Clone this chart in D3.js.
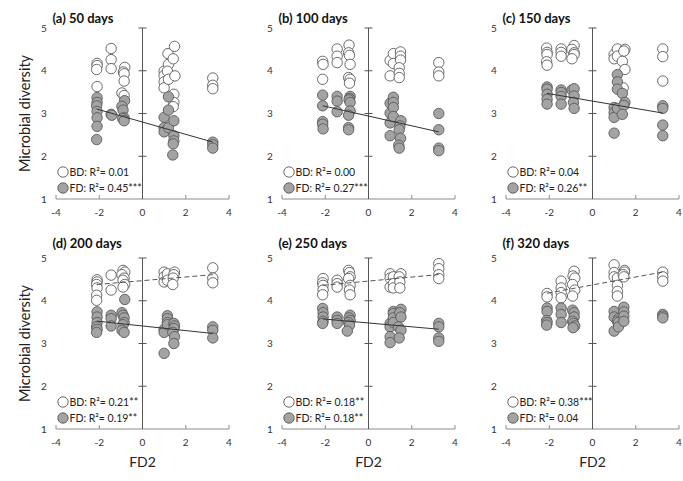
<!DOCTYPE html>
<html><head><meta charset="utf-8">
<script src="https://cdn.jsdelivr.net/npm/d3@7"></script>
<style>body{margin:0;background:#fff}svg{display:block}text{font-family:Lato,"Open Sans",sans-serif}</style>
</head><body><svg id="c" width="683" height="481"></svg>
<script>
const titles = ["(a) 50 days","(b) 100 days","(c) 150 days","(d) 200 days","(e) 250 days","(f) 320 days"];
const bdLabels = ["BD: R²= 0.01","BD: R²= 0.00","BD: R²= 0.04","BD: R²= 0.21**","BD: R²= 0.18**","BD: R²= 0.38***"];
const fdLabels = ["FD: R²= 0.45***","FD: R²= 0.27***","FD: R²= 0.26**","FD: R²= 0.19**","FD: R²= 0.18**","FD: R²= 0.04"];
const xTicks = [-4,-2,0,2,4];
const yTicks = [1,2,3,4,5];

const bd50 = [[-2.1,4.17],[-2.1,4.12],[-2.12,4.03],[-2.1,3.63],[-1.45,4.52],[-1.45,4.26],[-1.45,4.05],
[-0.82,4.08],[-0.88,3.97],[-0.85,3.93],[-0.85,3.76],[-0.95,3.48],[-0.85,3.42],
[1.0,3.99],[1.0,3.89],[1.0,3.74],[1.0,3.60],[1.18,4.40],[1.2,4.15],[1.15,3.99],[1.2,3.80],
[1.48,4.57],[1.42,4.28],[1.5,3.88],[1.45,3.45],[1.45,3.26],[1.42,3.16],[3.25,3.83],[3.25,3.66],[3.25,3.58]];
const fd50 = [[-2.1,3.37],[-2.1,3.26],[-2.12,3.18],[-2.1,3.05],[-2.1,2.90],[-2.1,2.70],[-2.12,2.39],
[-1.45,2.98],[-1.42,2.96],[-0.83,3.30],[-0.95,3.17],[-0.9,3.08],[-0.85,2.90],[-0.92,2.88],[-0.85,2.83],
[1.0,2.91],[1.0,2.67],[1.0,2.57],[1.2,3.39],[1.2,3.08],[1.2,2.67],
[1.45,2.83],[1.45,2.48],[1.45,2.36],[1.42,2.29],[1.4,2.03],[3.25,2.33],[3.25,2.27],[3.25,2.19]];
const bd100 = [[-2.12,4.22],[-2.1,4.15],[-2.12,3.80],[-1.45,4.51],[-1.45,4.34],[-1.45,4.19],
[-0.9,4.60],[-0.92,4.42],[-0.88,4.36],[-0.85,4.15],[-0.92,3.84],[-0.85,3.80],[-0.88,3.71],
[1.0,4.24],[1.0,3.88],[1.15,4.40],[1.15,4.17],
[1.48,4.44],[1.48,4.34],[1.48,4.25],[1.42,4.07],[1.42,3.94],[1.42,3.84],[3.25,4.19],[3.25,3.97],[3.25,3.88]];
const fd100 = [[-2.12,3.43],[-2.12,3.18],[-2.12,2.81],[-2.12,2.75],[-2.1,2.64],[-1.45,3.40],[-1.45,3.29],[-1.45,3.04],
[-0.85,3.40],[-0.88,3.35],[-0.9,3.32],[-0.85,3.26],[-0.85,3.06],[-0.92,2.96],[-0.92,2.67],[-0.92,2.62],
[1.0,3.24],[1.0,3.01],[1.0,2.78],[1.0,2.48],[1.15,3.38],[1.15,3.26],[1.15,3.14],[1.15,2.93],
[1.5,2.83],[1.45,2.71],[1.42,2.62],[1.48,2.42],[1.4,2.26],[1.42,2.19],[3.25,3.00],[3.25,2.62],[3.25,2.19],[3.25,2.13]];
const bd150 = [[-2.12,4.53],[-2.1,4.43],[-2.1,4.38],[-2.12,4.21],[-2.1,4.13],[-1.45,4.51],[-1.45,4.43],[-1.45,4.34],
[-0.85,4.59],[-0.95,4.50],[-0.85,4.42],[-0.85,4.38],[-0.95,4.28],[1.0,4.38],[1.0,4.28],[1.15,4.51],[1.15,4.34],
[1.5,4.50],[1.45,4.46],[1.38,4.22],[1.5,4.03],[1.42,3.60],[3.25,4.51],[3.25,4.33],[3.25,3.76]];
const fd150 = [[-2.1,3.62],[-2.1,3.57],[-2.1,3.45],[-2.1,3.33],[-2.1,3.22],[-1.45,3.55],[-1.45,3.49],[-1.45,3.40],[-1.45,3.22],
[-0.95,3.55],[-0.85,3.58],[-0.85,3.41],[-0.88,3.26],[-0.85,3.12],[1.0,3.14],[1.0,3.02],[1.0,2.91],[1.0,2.54],
[1.15,3.91],[1.15,3.74],[1.15,3.57],[1.15,3.12],[1.38,3.47],[1.5,3.26],[1.45,3.19],[1.38,2.98],
[3.25,3.18],[3.25,3.12],[3.25,2.73],[3.25,2.48]];
const bd200 = [[-2.1,4.49],[-2.1,4.44],[-2.12,4.38],[-2.1,4.30],[-2.12,4.13],[-2.12,4.01],[-1.45,4.60],[-1.45,4.25],
[-0.9,4.71],[-0.82,4.67],[-0.95,4.61],[-0.85,4.53],[-0.9,4.48],[-0.82,4.38],[-0.9,4.32],
[1.0,4.67],[1.0,4.56],[1.0,4.44],[1.15,4.63],[1.15,4.48],[1.48,4.67],[1.45,4.61],[1.42,4.53],[1.4,4.38],
[3.25,4.77],[3.25,4.53],[3.25,4.42]];
const fd200 = [[-2.1,3.74],[-2.1,3.62],[-2.1,3.49],[-2.12,3.39],[-2.1,3.33],[-2.12,3.26],[-1.45,3.66],[-1.45,3.58],[-1.45,3.41],
[-0.82,4.03],[-0.95,3.72],[-0.9,3.66],[-0.85,3.60],[-0.85,3.49],[-0.9,3.44],[-0.95,3.31],[-0.85,3.26],
[1.0,3.33],[1.0,3.26],[1.0,2.77],[1.15,3.65],[1.15,3.58],[1.15,3.49],[1.15,3.44],
[1.45,3.47],[1.48,3.41],[1.45,3.35],[1.4,3.26],[1.48,3.16],[1.45,3.00],[3.25,3.39],[3.25,3.31],[3.25,3.13]];
const bd250 = [[-2.1,4.52],[-2.12,4.42],[-2.1,4.36],[-2.1,4.25],[-2.12,4.14],[-1.45,4.48],[-1.45,4.40],[-1.45,4.32],
[-0.92,4.71],[-0.88,4.66],[-0.85,4.56],[-0.92,4.52],[-0.85,4.36],[-0.88,4.25],[-0.85,4.14],
[1.0,4.63],[1.0,4.53],[1.0,4.32],[1.15,4.56],[1.15,4.40],[1.15,4.30],
[1.5,4.63],[1.42,4.56],[1.45,4.44],[1.45,4.30],[3.25,4.87],[3.25,4.75],[3.25,4.61],[3.25,4.52]];
const fd250 = [[-2.12,3.82],[-2.1,3.72],[-2.1,3.62],[-2.1,3.52],[-2.12,3.47],[-1.45,3.62],[-1.45,3.54],[-1.45,3.47],
[-0.85,3.66],[-0.9,3.60],[-0.85,3.54],[-0.92,3.49],[-0.88,3.43],[-0.98,3.29],
[1.0,3.47],[1.0,3.39],[1.0,3.16],[1.0,3.02],[1.15,3.75],[1.15,3.70],[1.15,3.60],[1.15,3.49],
[1.5,3.80],[1.45,3.72],[1.5,3.62],[1.38,3.39],[1.5,3.31],[1.42,3.13],[3.25,3.47],[3.25,3.39],[3.25,3.13],[3.25,3.05]];
const bd320 = [[-2.1,4.17],[-2.1,4.09],[-1.45,4.46],[-1.45,4.30],[-1.45,4.19],[-1.45,4.07],
[-0.85,4.69],[-0.9,4.58],[-0.82,4.53],[-0.92,4.38],[-0.82,4.25],[-0.92,4.11],
[1.0,4.84],[1.0,4.66],[1.0,4.56],[1.15,4.53],[1.15,4.36],[1.15,4.22],[1.15,4.11],
[1.48,4.71],[1.48,4.67],[1.42,4.61],[1.45,4.56],[3.25,4.67],[3.25,4.56],[3.25,4.46]];
const fd320 = [[-2.1,3.83],[-2.1,3.75],[-2.12,3.54],[-2.1,3.49],[-2.12,3.43],[-1.45,3.83],[-1.45,3.68],[-1.45,3.49],
[-0.92,3.78],[-0.85,3.72],[-0.85,3.62],[-0.92,3.52],[-0.88,3.47],[-0.82,3.41],[-0.9,3.37],
[1.0,3.75],[1.0,3.62],[1.0,3.29],[1.2,3.58],[1.15,3.52],[1.2,3.49],[1.2,3.39],
[1.45,3.85],[1.45,3.74],[1.45,3.64],[1.45,3.52],[3.25,3.68],[3.25,3.64],[3.25,3.60]];

// regression fits [intercept, slope]; null = no line
const bdFits = [null, null, null, [4.47,0.043], [4.46,0.047], [4.37,0.093]];
const fdFits = [[2.80,-0.144], [2.94,-0.114], [3.29,-0.086], [3.41,-0.054], [3.48,-0.045], null];

const bdSets = [bd50,bd100,bd150,bd200,bd250,bd320];
const fdSets = [fd50,fd100,fd150,fd200,fd250,fd320];

const svg = d3.select("#c");
const W = 173, H = 171;
const lefts = [56, 282, 506];
const tops = [28, 258];
const R = 5.2;

for (let i = 0; i < 6; i++) {
  const col = i % 3, row = Math.floor(i / 3);
  const g = svg.append("g").attr("transform", `translate(${lefts[col]},${tops[row]})`);
  const x = d3.scaleLinear().domain([-4, 4]).range([0, W]);
  const y = d3.scaleLinear().domain([1, 5]).range([H, 0]);

  g.append("line").attr("x1", 0).attr("x2", W).attr("y1", H).attr("y2", H).attr("stroke", "#8c8c8c");
  g.selectAll(".xt").data(xTicks).enter().append("line")
    .attr("x1", d => x(d)).attr("x2", d => x(d)).attr("y1", H).attr("y2", H - 4).attr("stroke", "#8c8c8c");
  g.selectAll(".xl").data(xTicks).enter().append("text")
    .attr("x", d => x(d)).attr("y", H + 17).attr("text-anchor", "middle")
    .attr("font-size", 10).attr("fill", "#333").text(d => d);
  g.append("line").attr("x1", x(0)).attr("x2", x(0)).attr("y1", y(1)).attr("y2", y(5)).attr("stroke", "#555");
  g.selectAll(".yt").data(yTicks.slice(1)).enter().append("line")
    .attr("x1", x(0) - 4).attr("x2", x(0) + 4).attr("y1", d => y(d)).attr("y2", d => y(d)).attr("stroke", "#555");
  g.selectAll(".yl").data(yTicks).enter().append("text")
    .attr("x", -12).attr("y", d => y(d) + 3.5).attr("text-anchor", "middle")
    .attr("font-size", 10).attr("fill", "#333").text(d => d);

  g.selectAll(".bd").data(bdSets[i]).enter().append("circle")
    .attr("cx", d => x(d[0])).attr("cy", d => y(d[1])).attr("r", R)
    .attr("fill", "#fff").attr("stroke", "#5a5a5a").attr("stroke-width", 0.9);
  g.selectAll(".fd").data(fdSets[i]).enter().append("circle")
    .attr("cx", d => x(d[0])).attr("cy", d => y(d[1])).attr("r", R)
    .attr("fill", "#a3a3a3").attr("stroke", "#5a5a5a").attr("stroke-width", 0.9);

  const drawFit = (fit, data, dashed) => {
    if (!fit) return;
    const ext = d3.extent(data, d => d[0]);
    g.append("line")
      .attr("x1", x(ext[0])).attr("x2", x(ext[1]))
      .attr("y1", y(fit[0] + fit[1] * ext[0])).attr("y2", y(fit[0] + fit[1] * ext[1]))
      .attr("stroke", dashed ? "#555" : "#333").attr("stroke-width", 1)
      .attr("stroke-dasharray", dashed ? "5,3" : null);
  };
  drawFit(bdFits[i], bdSets[i], true);
  drawFit(fdFits[i], fdSets[i], false);

  g.append("circle").attr("cx", 7).attr("cy", H - 27).attr("r", R)
    .attr("fill", "#fff").attr("stroke", "#5a5a5a").attr("stroke-width", 0.9);
  g.append("text").attr("x", 13.5).attr("y", H - 23.5).attr("font-size", 10.5).attr("fill", "#222").text(bdLabels[i]);
  g.append("circle").attr("cx", 7).attr("cy", H - 11).attr("r", R)
    .attr("fill", "#a3a3a3").attr("stroke", "#5a5a5a").attr("stroke-width", 0.9);
  g.append("text").attr("x", 13.5).attr("y", H - 7.5).attr("font-size", 10.5).attr("fill", "#222").text(fdLabels[i]);

  g.append("text").attr("x", -3.5).attr("y", row === 0 ? -5 : -10).attr("font-size", 13)
    .attr("font-weight", "bold").attr("fill", "#111").text(titles[i]);

  if (row === 1) {
    g.append("text").attr("x", x(0)).attr("y", H + 38).attr("text-anchor", "middle")
      .attr("font-size", 14).attr("fill", "#222").text("FD2");
  }
  if (col === 0) {
    g.append("text").attr("transform", `translate(-26,${H / 2}) rotate(-90)`)
      .attr("text-anchor", "middle").attr("font-size", 14.5).attr("fill", "#222").text("Microbial diversity");
  }
}
</script></body></html>
